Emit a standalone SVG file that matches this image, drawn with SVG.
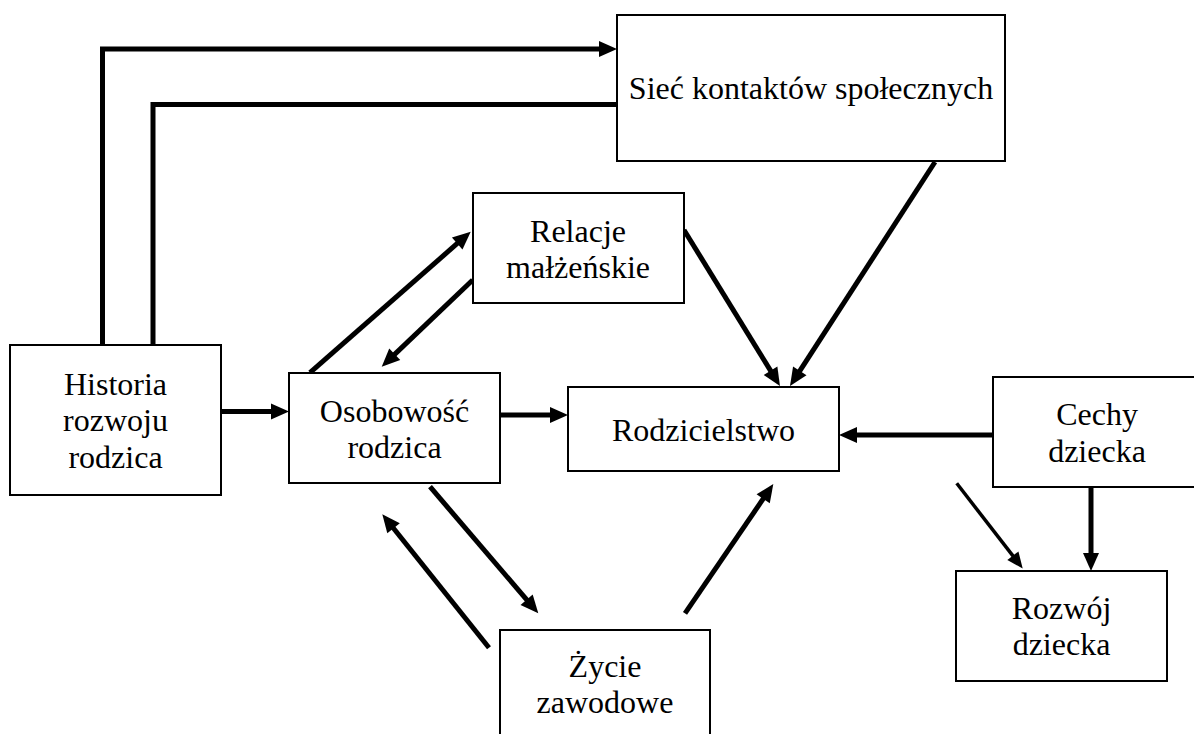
<svg xmlns="http://www.w3.org/2000/svg" width="1194" height="734" viewBox="0 0 1194 734">
<style>
.box{fill:#fff;stroke:#000;stroke-width:2}
.lbl{font-size:32px;fill:#000;text-anchor:middle}
.c{fill:none;stroke:#000;stroke-width:5;stroke-linejoin:miter}
.t{fill:none;stroke:#000;stroke-width:3.5}
</style>
<defs>
<marker id="ah" markerUnits="userSpaceOnUse" markerWidth="18" markerHeight="17" refX="2" refY="8.5" orient="auto" overflow="visible">
<path d="M0,0.5 L18,8.5 L0,16.5 z" fill="#000"/>
</marker>
<marker id="ahs" markerUnits="userSpaceOnUse" markerWidth="16" markerHeight="14" refX="2" refY="7" orient="auto" overflow="visible">
<path d="M0,0 L16,7 L0,14 z" fill="#000"/>
</marker>
</defs>
<rect width="1194" height="734" fill="#fff"/>
<g id="connectors">
<path class="c" d="M102.5,345 V49 H601" marker-end="url(#ah)"/>
<path class="c" d="M617,104.5 H153 V345"/>
<path class="c" d="M221,411.5 H273" marker-end="url(#ah)"/>
<path class="c" d="M500,415 H552" marker-end="url(#ah)"/>
<path class="c" d="M310,372.7 L458.7,242.2" marker-end="url(#ah)"/>
<path class="c" d="M472.7,280 L393.3,355.6" marker-end="url(#ah)"/>
<path class="c" d="M684,230 L771.6,372.4" marker-end="url(#ah)"/>
<path class="c" d="M935,162 L798.7,372.6" marker-end="url(#ah)"/>
<path class="c" d="M430,486.7 L527.9,601.2" marker-end="url(#ah)"/>
<path class="c" d="M489,647.7 L392.3,526.8" marker-end="url(#ah)"/>
<path class="c" d="M685,613.3 L764.3,497.2" marker-end="url(#ah)"/>
<path class="c" d="M993,435 H855" marker-end="url(#ah)"/>
<path class="c" d="M1091,487 V555" marker-end="url(#ah)"/>
<path class="t" d="M956.7,483.3 L1014.1,557.4" marker-end="url(#ahs)"/>
</g>
<g font-family="Liberation Serif, Tinos, Times New Roman, DejaVu Serif, serif">
<g id="siec">
<rect class="box" x="617" y="15" width="388" height="146"/>
<text class="lbl" x="811" y="99">Sieć kontaktów społecznych</text>
</g>
<g id="historia">
<rect class="box" x="10" y="345" width="211" height="150"/>
<text class="lbl" x="115.5" y="394.5">Historia</text>
<text class="lbl" x="115.5" y="431">rozwoju</text>
<text class="lbl" x="115.5" y="467.5">rodzica</text>
</g>
<g id="relacje">
<rect class="box" x="473" y="193" width="211" height="110"/>
<text class="lbl" x="578" y="241.5">Relacje</text>
<text class="lbl" x="578" y="277.5">małżeńskie</text>
</g>
<g id="osobowosc">
<rect class="box" x="289" y="373" width="211" height="110"/>
<text class="lbl" x="394.5" y="421.5">Osobowość</text>
<text class="lbl" x="394.5" y="458">rodzica</text>
</g>
<g id="rodzicielstwo">
<rect class="box" x="568" y="387" width="271" height="84"/>
<text class="lbl" x="703.5" y="441">Rodzicielstwo</text>
</g>
<g id="cechy">
<rect class="box" x="993" y="377" width="210" height="110"/>
<text class="lbl" x="1097" y="424.5">Cechy</text>
<text class="lbl" x="1097" y="461.5">dziecka</text>
</g>
<g id="rozwoj">
<rect class="box" x="956" y="571" width="211" height="110"/>
<text class="lbl" x="1061.5" y="618.5">Rozwój</text>
<text class="lbl" x="1061.5" y="655">dziecka</text>
</g>
<g id="zycie">
<rect class="box" x="500" y="630" width="210" height="110"/>
<text class="lbl" x="605" y="676.5">Życie</text>
<text class="lbl" x="605" y="712.5">zawodowe</text>
</g>
</g>
</svg>
